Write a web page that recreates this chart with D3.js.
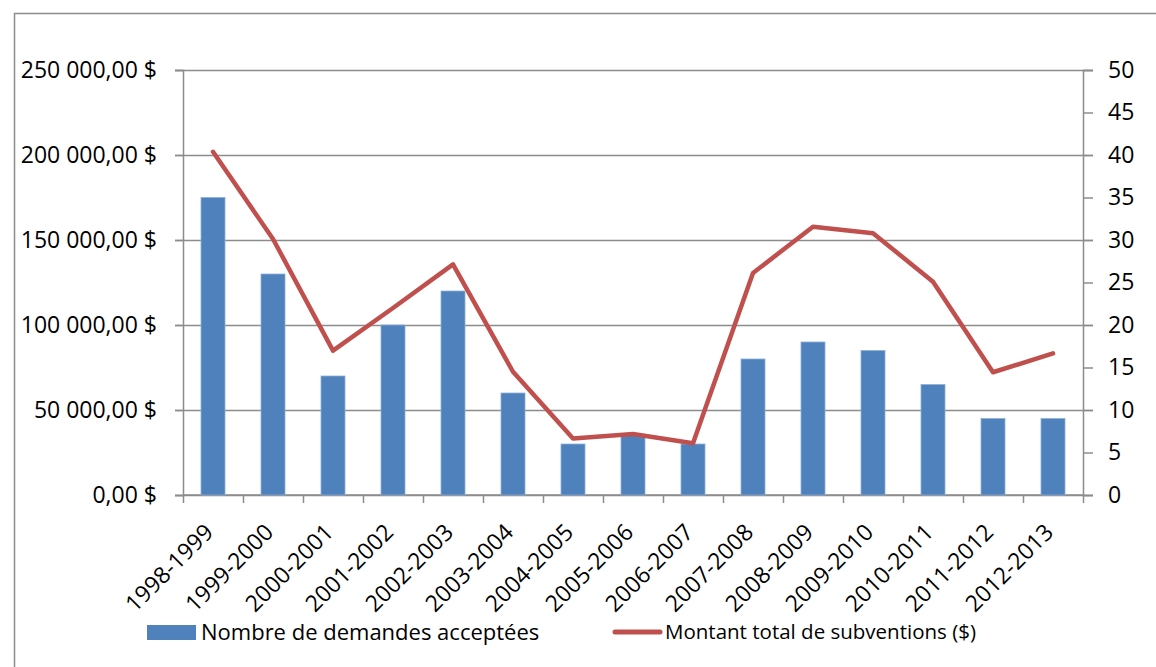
<!DOCTYPE html>
<html>
<head>
<meta charset="utf-8">
<script src="https://cdn.jsdelivr.net/npm/d3@7"></script>
<style>
	body { margin: 0; background: #fff; }
	svg text { font-family: "Open Sans", "Noto Sans", sans-serif; fill: #000; }
</style>
</head>
<body>
<div id="chart"></div>
<script>
// données
const categories = ["1998-1999", "1999-2000", "2000-2001", "2001-2002", "2002-2003", "2003-2004", "2004-2005",
	"2005-2006", "2006-2007", "2007-2008", "2008-2009", "2009-2010", "2010-2011", "2011-2012", "2012-2013"];
const demandes = [35, 26, 14, 20, 24, 12, 6, 7, 6, 16, 18, 17, 13, 9, 9];
const montants = [201900, 150600, 84900, 110000, 135700, 72500, 33300, 35900, 30400, 130600, 157800, 154000, 125500, 72200, 83300];
const leftTicks = [0, 50000, 100000, 150000, 200000, 250000];
const rightTicks = [0, 5, 10, 15, 20, 25, 30, 35, 40, 45, 50];
const legendLabels = ["Nombre de demandes acceptées", "Montant total de subventions ($)"];

const W = 1156, H = 667;
const margin = { top: 70, right: 73, bottom: 172, left: 183 },
	width = W - margin.left - margin.right,
	height = H - margin.top - margin.bottom;

const svg = d3.select("#chart")
	.append("svg")
	.attr("width", W)
	.attr("height", H);

// cadre extérieur
svg.append("path")
	.attr("d", `M14.5,${H} V13.5 H${W}`)
	.attr("fill", "none")
	.attr("stroke", "#8c8c8c")
	.attr("stroke-width", 1.5);

const g = svg.append("g").attr("transform", `translate(${margin.left},${margin.top})`);

const x = d3.scaleBand().domain(categories).range([0, width]);
const yLeft = d3.scaleLinear().domain([0, 250000]).range([height, 0]);
const yRight = d3.scaleLinear().domain([0, 50]).range([height, 0]);

const fmt = v => d3.format(",.2f")(v).replace(/,/g, " ").replace(".", ",") + " $";
const gridColor = "#8c8c8c";

// grille horizontale
g.append("g")
	.selectAll("line")
	.data(leftTicks)
	.join("line")
	.attr("x1", -8)
	.attr("x2", width + 10)
	.attr("y1", d => Math.round(yLeft(d)) + 0.5)
	.attr("y2", d => Math.round(yLeft(d)) + 0.5)
	.attr("stroke", gridColor)
	.attr("stroke-width", 1.3);

// axe gauche
const leftAxis = g.append("g")
	.call(d3.axisLeft(yLeft).tickValues(leftTicks).tickFormat(fmt).tickSize(8).tickPadding(18));
leftAxis.selectAll("text").attr("font-size", 23).attr("font-family", "Open Sans");

// axe droit
const rightAxis = g.append("g")
	.attr("transform", `translate(${width},0)`)
	.call(d3.axisRight(yRight).tickValues(rightTicks).tickSize(10).tickPadding(15));
rightAxis.selectAll("text").attr("font-size", 23).attr("font-family", "Open Sans");

// axe du bas, graduations aux limites des catégories
const xAxis = g.append("g").attr("transform", `translate(0,${height})`);
xAxis.append("line")
	.attr("x1", 0).attr("x2", width)
	.attr("stroke", gridColor).attr("stroke-width", 1.5);
xAxis.selectAll("line.tick")
	.data(d3.range(categories.length + 1))
	.join("line")
	.attr("class", "tick")
	.attr("x1", i => Math.round(i * x.step()) + 0.5)
	.attr("x2", i => Math.round(i * x.step()) + 0.5)
	.attr("y1", 0)
	.attr("y2", 8)
	.attr("stroke", gridColor)
	.attr("stroke-width", 1.5);
xAxis.selectAll("text")
	.data(categories)
	.join("text")
	.attr("transform", d => `translate(${x(d) + x.bandwidth() / 2 - 4},${33}) rotate(-45)`)
	.attr("text-anchor", "end")
	.attr("dy", "0.35em")
	.attr("font-size", 23)
	.text(d => d);

g.selectAll(".domain").attr("stroke", gridColor).attr("stroke-width", 1.5);
g.selectAll(".tick line").attr("stroke", gridColor).attr("stroke-width", 1.5);

// barres
const barW = x.bandwidth() * 0.4;
g.append("g")
	.selectAll("rect")
	.data(demandes)
	.join("rect")
	.attr("x", (d, i) => x(categories[i]) + (x.bandwidth() - barW) / 2)
	.attr("y", d => yRight(d))
	.attr("width", barW)
	.attr("height", d => height - yRight(d))
	.attr("fill", "#4f81bd")
	.attr("stroke", "#8eb0d8")
	.attr("stroke-width", 0.8);

// ligne des montants
const line = d3.line()
	.x((d, i) => x(categories[i]) + x.bandwidth() / 2)
	.y(d => yLeft(d));
g.append("path")
	.datum(montants)
	.attr("d", line)
	.attr("fill", "none")
	.attr("stroke", "#c0504d")
	.attr("stroke-width", 4.5)
	.attr("stroke-linejoin", "round")
	.attr("stroke-linecap", "round");

// légende
const leg = svg.append("g");
leg.append("rect")
	.attr("x", 147).attr("y", 625)
	.attr("width", 49).attr("height", 15)
	.attr("fill", "#4f81bd");
leg.append("text")
	.attr("x", 201).attr("y", 632)
	.attr("dy", "0.35em")
	.attr("font-size", 22)
	.text(legendLabels[0]);
leg.append("line")
	.attr("x1", 615).attr("x2", 660)
	.attr("y1", 632).attr("y2", 632)
	.attr("stroke", "#c0504d")
	.attr("stroke-width", 5)
	.attr("stroke-linecap", "round");
leg.append("text")
	.attr("x", 665).attr("y", 632)
	.attr("dy", "0.35em")
	.attr("font-size", 20.5)
	.text(legendLabels[1]);
</script>
</body>
</html>
